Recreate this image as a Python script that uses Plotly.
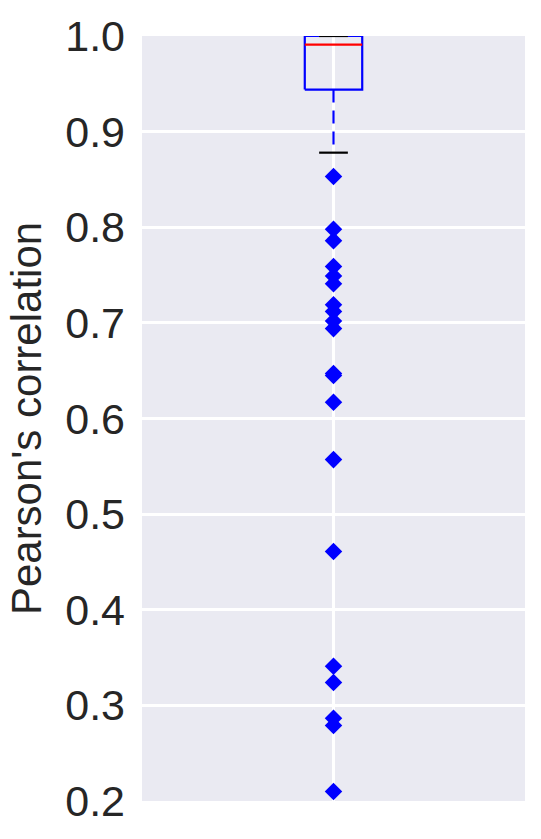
import plotly.graph_objects as go

# Box statistics
position = [1]
q1 = [0.944]
median = [0.991]
q3 = [1.0]
whisker_low = [0.878]
whisker_high = [1.0]
outliers = [0.853, 0.798, 0.786, 0.759, 0.749, 0.741, 0.719, 0.712, 0.702, 0.694,
            0.647, 0.645, 0.617, 0.557, 0.461, 0.341, 0.324, 0.2865, 0.279, 0.210]
y_ticks = [0.2, 0.3, 0.4, 0.5, 0.6, 0.7, 0.8, 0.9, 1.0]
y_title = "Pearson's correlation"

box_width = 0.15
cap_width = box_width / 2

fig = go.Figure()
p = position[0]
hw = box_width / 2
hc = cap_width / 2

# box outline
fig.add_trace(go.Scatter(
    x=[p - hw, p + hw, p + hw, p - hw, p - hw],
    y=[q1[0], q1[0], q3[0], q3[0], q1[0]],
    mode="lines", line=dict(color="#0000FF", width=2.2), showlegend=False,
    hoverinfo="skip", cliponaxis=False))
# whiskers
fig.add_trace(go.Scatter(
    x=[p, p], y=[q1[0], whisker_low[0]], mode="lines",
    line=dict(color="#0000FF", width=2.2, dash="13px,8px"), showlegend=False,
    hoverinfo="skip", cliponaxis=False))
fig.add_trace(go.Scatter(
    x=[p, p], y=[q3[0], whisker_high[0]], mode="lines",
    line=dict(color="#0000FF", width=2.2, dash="13px,8px"), showlegend=False,
    hoverinfo="skip", cliponaxis=False))
# caps
for w in (whisker_low[0], whisker_high[0]):
    fig.add_trace(go.Scatter(
        x=[p - hc, p + hc], y=[w, w], mode="lines",
        line=dict(color="black", width=2.2), showlegend=False,
        hoverinfo="skip", cliponaxis=False))
# median
fig.add_trace(go.Scatter(
    x=[p - hw, p + hw], y=[median[0], median[0]], mode="lines",
    line=dict(color="#FF0000", width=2.2), showlegend=False,
    hoverinfo="skip", cliponaxis=False))
# outliers
fig.add_trace(go.Scatter(
    x=[p] * len(outliers), y=outliers, mode="markers",
    marker=dict(symbol="diamond", size=13.5, color="#0000FF",
                line=dict(width=0)),
    showlegend=False, cliponaxis=False))

font_family = "Liberation Sans, Arial, sans-serif"
fig.update_layout(
    width=541, height=839,
    margin=dict(l=142, r=16, t=36, b=38),
    paper_bgcolor="white",
    plot_bgcolor="#EAEAF2",
    font=dict(family=font_family, color="#262626"),
    xaxis=dict(range=[0.5, 1.5], tickvals=position, showticklabels=False,
               showgrid=True, gridcolor="white", gridwidth=2.5, zeroline=False,
               showline=False, ticks=""),
    yaxis=dict(range=[0.2, 1.0], tickvals=y_ticks,
               ticktext=[f"{v:.1f}" for v in y_ticks],
               showgrid=True, gridcolor="white", gridwidth=2.5, zeroline=False,
               showline=False, ticks="", ticklabelstandoff=16,
               tickfont=dict(size=43, color="#262626"),
               title=dict(text=y_title, font=dict(size=42, color="#262626"),
                          standoff=10)),
)

fig.write_html("out.html")
